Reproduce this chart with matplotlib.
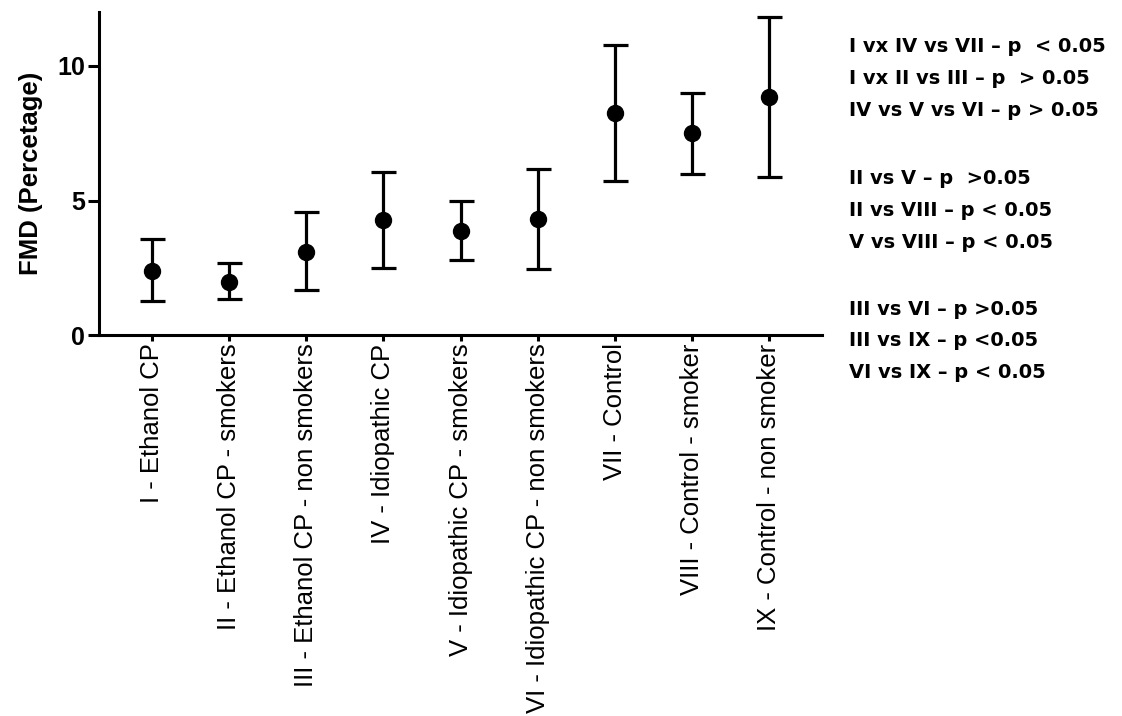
import numpy as np
import matplotlib.pyplot as plt

plt.rcParams['font.family'] = ['Liberation Sans', 'DejaVu Sans']

# group labels and FMD values
groups = ['I - Ethanol CP', 'II - Ethanol CP - smokers', 'III - Ethanol CP - non smokers',
          'IV - Idiopathic CP', 'V - Idiopathic CP - smokers', 'VI - Idiopathic CP - non smokers',
          'VII - Control', 'VIII - Control - smoker', 'IX - Control - non smoker']
means = [2.39, 1.98, 3.10, 4.28, 3.88, 4.30, 8.26, 7.50, 8.84]
lower = [1.26, 1.33, 1.68, 2.50, 2.79, 2.46, 5.74, 6.00, 5.87]
upper = [3.56, 2.69, 4.56, 6.07, 4.97, 6.16, 10.78, 9.01, 11.81]

notes = [
    ['I vx IV vs VII \u2013 p  < 0.05', 'I vx II vs III \u2013 p  > 0.05', 'IV vs V vs VI \u2013 p > 0.05'],
    ['II vs V \u2013 p  >0.05', 'II vs VIII \u2013 p < 0.05', 'V vs VIII \u2013 p < 0.05'],
    ['III vs VI \u2013 p >0.05', 'III vs IX \u2013 p <0.05', 'VI vs IX \u2013 p < 0.05'],
]

means = np.array(means)
yerr = [means - np.array(lower), np.array(upper) - means]
x = np.arange(len(groups))

fig = plt.figure(figsize=(11.22, 7.16), dpi=100)
ax = fig.add_axes([0.088, 0.532, 0.645, 0.451])

ax.errorbar(x, means, yerr=yerr, fmt='o', color='black', markersize=11.5,
            elinewidth=2.3, capsize=9, capthick=2.3)

ax.set_xlim(-0.69, len(groups) - 1 + 0.69)
ax.set_ylim(0, 12)
ax.set_yticks([0, 5, 10])
ax.set_yticklabels(['0', '5', '10'], fontsize=18, fontweight='bold')
ax.set_xticks(x)
ax.set_xticklabels(groups, rotation=90, fontsize=18.5)
ax.set_ylabel('FMD (Percetage)', fontsize=18.5, fontweight='bold', labelpad=10)

for side in ['top', 'right']:
    ax.spines[side].set_visible(False)
for side in ['left', 'bottom']:
    ax.spines[side].set_linewidth(2.2)
ax.tick_params(axis='y', length=8, width=2.2, pad=2)
ax.tick_params(axis='x', length=4, width=2.2, pad=2)

# p-value notes on the right
y0 = 1 - 47 / 716
for g, block in enumerate(notes):
    for i, line in enumerate(block):
        yy = y0 - (g * 131 + i * 32) / 716
        fig.text(849 / 1122, yy, line, fontsize=14, va='center', ha='left',
                 family='DejaVu Sans', fontweight='bold')

fig.savefig('out.png', dpi=100)
